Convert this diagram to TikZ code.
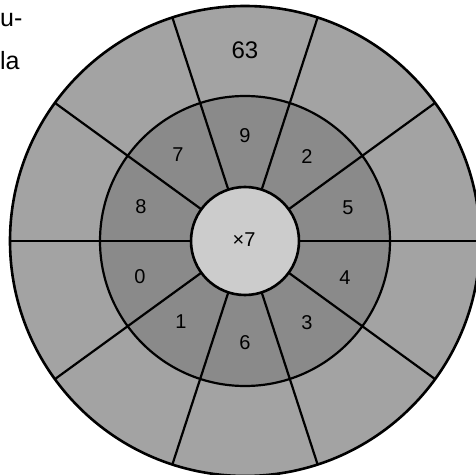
\documentclass[tikz,border=0pt]{standalone}
\usepackage{fontspec}
\setmainfont{Liberation Sans}
\definecolor{outerg}{gray}{0.64}
\definecolor{midg}{gray}{0.54}
\definecolor{centg}{gray}{0.80}
\begin{document}
\begin{tikzpicture}[x=1pt,y=1pt,
  lbl/.style={font=\fontsize{20}{20}\selectfont, inner sep=0},
  biglbl/.style={font=\fontsize{24}{24}\selectfont, inner sep=0},
  side/.style={font=\fontsize{25}{25}\selectfont, inner sep=0, anchor=base west},
  spoke/.style={line width=2.2pt},
  ring/.style={line width=2.6pt}]
\useasboundingbox (0,0) rectangle (475,475);
\coordinate (c) at (245,234);
\fill[outerg] (c) circle (235);
\fill[midg] (c) circle (145);
\fill[centg] (c) circle (54);
\begin{scope}[shift={(245,234)}]
  \foreach \a in {0,36,...,324} \draw[spoke] (\a:54) -- (\a:235);
\end{scope}
\draw[ring] (c) circle (235);
\draw[spoke] (c) circle (145);
\draw[ring] (c) circle (54);
% inner ring labels
\node[lbl] (l9) at (245,339) {9};
\node[lbl] (l2) at (307,318) {2};
\node[lbl] (l5) at (348,267) {5};
\node[lbl] (l4) at (345,197) {4};
\node[lbl] (l3) at (307,152) {3};
\node[lbl] (l6) at (245,132) {6};
\node[lbl] (l1) at (181,153) {1};
\node[lbl] (l0) at (140,198) {0};
\node[lbl] (l8) at (141,268) {8};
\node[lbl] (l7) at (178,320) {7};
\node[biglbl] (l63) at (245,425) {63};
\node[lbl] (lc) at (244,235) {×7};
% text at top left
\node[side] (t1) at (0,448) {u-};
\node[side] (t2) at (0,405) {la};
\end{tikzpicture}
\end{document}
